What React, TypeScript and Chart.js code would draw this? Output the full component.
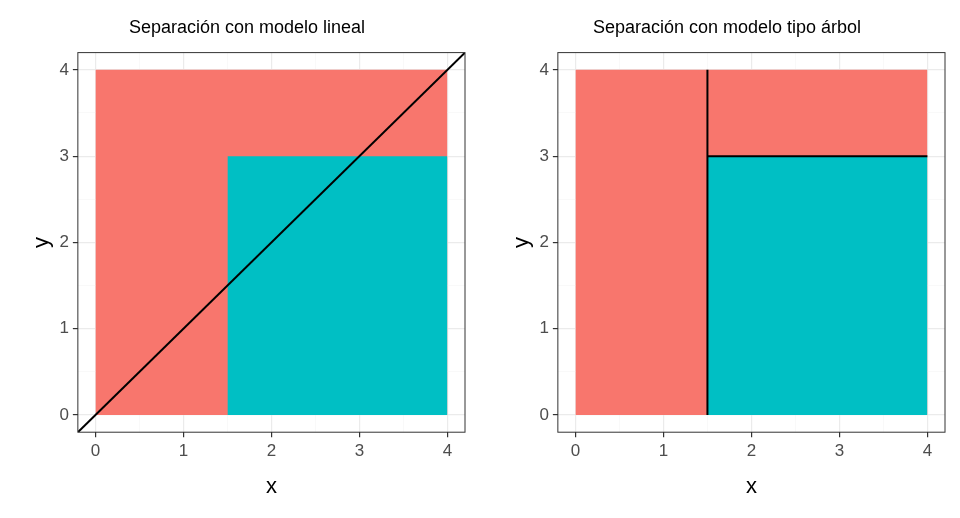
import React, { useEffect, useRef } from 'react';
import { Chart, registerables } from 'chart.js';

Chart.register(...registerables);

const RED = '#F8766D';
const CYAN = '#00BFC4';

// rectangles: top edge, filled down to y = 0
const redRect = [{ x: 0, y: 4 }, { x: 4, y: 4 }];
const cyanRect = [{ x: 1.5, y: 3 }, { x: 4, y: 3 }];

const linearLine = [{ x: -0.2, y: -0.2 }, { x: 4.2, y: 4.2 }];
const treeVertical = [{ x: 1.5, y: 0 }, { x: 1.5, y: 4 }];
const treeHorizontal = [{ x: 1.5, y: 3 }, { x: 4, y: 3 }];

const tickValues = [0, 0.5, 1, 1.5, 2, 2.5, 3, 3.5, 4];

const borderPlugin = {
  id: 'panelBorder',
  afterDraw(chart: Chart) {
    const { ctx, chartArea: a } = chart;
    ctx.save();
    ctx.strokeStyle = '#333333';
    ctx.lineWidth = 1;
    ctx.strokeRect(a.left, a.top, a.right - a.left, a.bottom - a.top);
    ctx.restore();
  },
};

function axis(title: string, titlePad: any) {
  return {
    type: 'linear' as const,
    min: -0.2,
    max: 4.2,
    afterBuildTicks: (ax: any) => {
      ax.ticks = tickValues.map(v => ({ value: v }));
    },
    ticks: {
      color: '#4d4d4d',
      font: { family: 'Liberation Sans', size: 17 },
      padding: 4,
      autoSkip: false,
      maxRotation: 0,
      callback: (v: any) => (Number.isInteger(v) ? String(v) : ''),
    },
    grid: {
      color: (c: any) => (Number.isInteger(c.tick?.value) ? '#ebebeb' : '#f5f5f5'),
      lineWidth: (c: any) => (Number.isInteger(c.tick?.value) ? 1.2 : 0.6),
      tickColor: (c: any) => (Number.isInteger(c.tick?.value) ? '#333333' : 'rgba(0,0,0,0)'),
      tickLength: 5,
    },
    border: { display: false },
    title: {
      display: true,
      text: title,
      color: '#000',
      font: { family: 'Liberation Sans', size: 22 },
      padding: titlePad,
    },
  };
}

function lineSet(data: { x: number; y: number }[]) {
  return { data, borderColor: '#000', borderWidth: 2, pointRadius: 0, fill: false, showLine: true };
}

function rectSet(data: { x: number; y: number }[], color: string) {
  return { data, borderWidth: 0, borderColor: color, backgroundColor: color, pointRadius: 0, fill: 'origin', showLine: true };
}

const Panel: React.FC<{ title: string; lines: { x: number; y: number }[][] }> = ({ title, lines }) => {
  const ref = useRef<HTMLCanvasElement>(null);
  useEffect(() => {
    if (!ref.current) return;
    const chart = new Chart(ref.current, {
      type: 'scatter',
      data: {
        datasets: [...lines.map(lineSet), rectSet(cyanRect, CYAN), rectSet(redRect, RED)] as any,
      },
      options: {
        responsive: false,
        animation: false,
        layout: { padding: { top: 13, right: 15, bottom: 18, left: 29 } },
        plugins: {
          legend: { display: false },
          tooltip: { enabled: false },
          title: {
            display: true,
            text: title,
            color: '#000',
            font: { family: 'Liberation Sans', size: 18, weight: 'normal' },
            padding: { top: 4, bottom: 14 },
          },
        },
        scales: { x: axis('x', { top: 8, bottom: 0 }), y: axis('y', 0) as any },
      },
      plugins: [borderPlugin],
    });
    return () => chart.destroy();
  }, []);
  return <canvas ref={ref} width={480} height={518} />;
};

const App: React.FC = () => {
  useEffect(() => {
    document.body.style.margin = '0';
  }, []);
  return (
    <div style={{ display: 'flex', width: 960, height: 518, background: '#fff' }}>
      <Panel title="Separación con modelo lineal" lines={[linearLine]} />
      <Panel title="Separación con modelo tipo árbol" lines={[treeVertical, treeHorizontal]} />
    </div>
  );
};

export default App;
